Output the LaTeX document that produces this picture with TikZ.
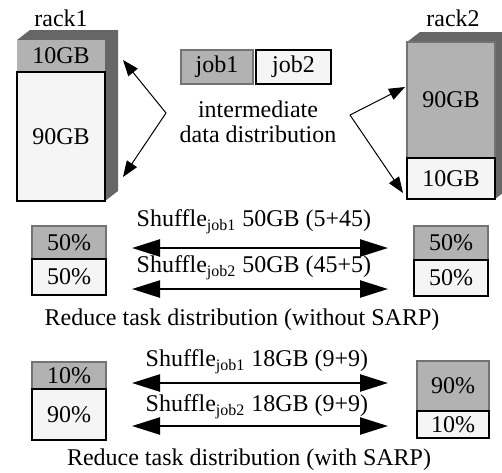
\documentclass[tikz,border=0pt]{standalone}
\usepackage{fontspec}
\setmainfont{Liberation Serif}
\usetikzlibrary{arrows.meta,positioning}

\begin{document}
\begin{tikzpicture}[x=0.5pt,y=-0.5pt,
        every node/.style={font=\fontsize{12}{12.5}\selectfont,inner sep=0pt,outer sep=0pt},
        GrayBox/.style={draw=black!55,fill=black!30,line width=0.8pt},
        WhiteBox/.style={draw=black,fill=black!4,line width=1.2pt},
        SideCfg/.style={fill=black!60},
        ThinArrow/.style={-{Triangle[length=8pt,width=6pt]},line width=0.5pt},
        BigArrow/.style={{Triangle[length=14pt,width=8.5pt]}-{Triangle[length=14pt,width=8.5pt]},line width=1.2pt}
    ]
    \clip (0,0) rectangle (502,472);
    
    %rack 1
    \fill[SideCfg] (17,40)--++(13,-10)--++(88,0)--++(0,161)--++(-13,10)--cycle;
    \node[GrayBox,draw=none,minimum width=44pt,minimum height=16pt] (R1top) at (61,56) {10GB};
    \node[WhiteBox,minimum width=44pt,minimum height=64.5pt,below=0pt of R1top] (R1bot) {90GB};
    \node (R1) at (61,18) {rack1};
    
    %rack 2
    \fill[SideCfg] (407,42)--++(13,-10)--++(88,0)--++(0,157)--++(-13,10)--cycle;
    \node[GrayBox,minimum width=44pt,minimum height=58pt] (R2top) at (451,100) {90GB};
    \node[WhiteBox,minimum width=44pt,minimum height=20.5pt,below=0pt of R2top] (R2bot) {10GB};
    \node (R2) at (453,18) {rack2};
    
    %jobs
    \node[GrayBox,minimum width=36pt,minimum height=17pt] (J1) at (217,67) {job1};
    \node[WhiteBox,minimum width=37.5pt,minimum height=17pt,right=1.5pt of J1] (J2) {job2};
    \node[align=center] (DIST) at (258,122) {intermediate\\data distribution};
    
    %arrows to racks
    \coordinate (PL) at (166,113);
    \coordinate (PR) at (350,115);
    \coordinate (T1) at (123,60);
    \coordinate (T2) at (123,177);
    \coordinate (T3) at (405,87);
    \coordinate (T4) at (403,193);
    \draw[ThinArrow] (PL)--(T1);
    \draw[ThinArrow] (PL)--(T2);
    \draw[ThinArrow] (PR)--(T3);
    \draw[ThinArrow] (PR)--(T4);
    
    %without SARP
    \node[GrayBox,minimum width=37pt,minimum height=16.5pt] (A1) at (69,242.5) {50\%};
    \node[WhiteBox,minimum width=37pt,minimum height=18pt,below=0pt of A1] (A2) {50\%};
    \node[GrayBox,minimum width=37pt,minimum height=17pt] (B1) at (451,243) {50\%};
    \node[WhiteBox,minimum width=37pt,minimum height=18pt,below=0pt of B1] (B2) {50\%};
    \coordinate (AL1) at (132,248);
    \coordinate (AR1) at (388,248);
    \coordinate (AL2) at (132,289);
    \coordinate (AR2) at (388,289);
    \draw[BigArrow] (AL1)--(AR1);
    \draw[BigArrow] (AL2)--(AR2);
    \node (S1) at (254,222) {Shuffle\textsubscript{job1} 50GB (5+45)};
    \node (S2) at (254,268) {Shuffle\textsubscript{job2} 50GB (45+5)};
    \node (C1) at (242,320) {Reduce task distribution (without SARP)};
    
    %with SARP
    \node[GrayBox,minimum width=37pt,minimum height=13.5pt] (C11) at (69,375.5) {10\%};
    \node[WhiteBox,minimum width=37pt,minimum height=25.5pt,below=0pt of C11] (C12) {90\%};
    \node[GrayBox,minimum width=36pt,minimum height=25pt] (D1) at (453,386) {90\%};
    \node[WhiteBox,minimum width=36pt,minimum height=13.5pt,below=0pt of D1] (D2) {10\%};
    \coordinate (BL1) at (132,383);
    \coordinate (BR1) at (388,383);
    \coordinate (BL2) at (132,426);
    \coordinate (BR2) at (388,426);
    \draw[BigArrow] (BL1)--(BR1);
    \draw[BigArrow] (BL2)--(BR2);
    \node (S3) at (257,362) {Shuffle\textsubscript{job1} 18GB (9+9)};
    \node (S4) at (257,407) {Shuffle\textsubscript{job2} 18GB (9+9)};
    \node (C2) at (249,460) {Reduce task distribution (with SARP)};
    
\end{tikzpicture}
\end{document}
